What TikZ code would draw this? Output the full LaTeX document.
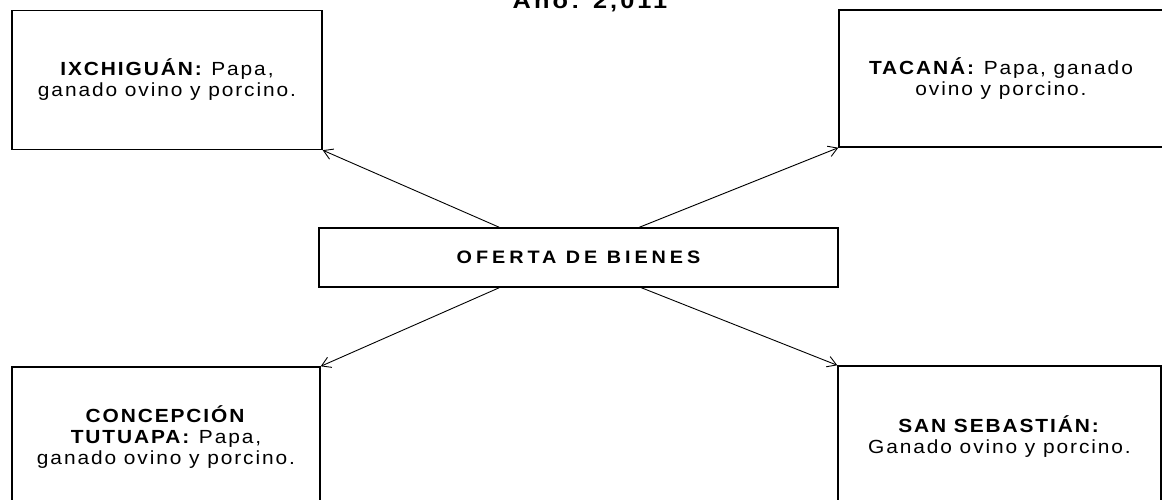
\documentclass[tikz,border=0pt]{standalone}
\usepackage{fontspec}
\setmainfont{Liberation Sans}
\newfontfamily\boxfont[FakeStretch=1.1,LetterSpace=10]{Liberation Sans}
\newfontfamily\midfont[FakeStretch=1.1,LetterSpace=22]{Liberation Sans}
\newfontfamily\titfont[FakeStretch=1.15,LetterSpace=14]{Liberation Sans}
\usetikzlibrary{arrows.meta}
\begin{document}
\begin{tikzpicture}[x=1pt,y=-1pt,
  bx/.style={draw=black,line width=1.4pt,rectangle,inner sep=0pt,align=center,
    font=\boxfont\fontsize{19}{21}\selectfont},
  conn/.style={draw=black,line width=0.9pt,-{Straight Barb[length=9pt,width=11pt]}}]
\useasboundingbox (0,0) rectangle (1162,500);
\node[anchor=base,font=\titfont\bfseries\fontsize{22}{26}\selectfont] (title) at (590,9) {Año: 2,011};
\node[bx,minimum width=310pt,minimum height=139pt] (ix) at (167,80)
  {\textbf{IXCHIGUÁN:} Papa,\\ganado ovino y porcino.};
\node[bx,minimum width=324pt,minimum height=137pt] (ta) at (1001,78.5)
  {\textbf{TACANÁ:} Papa, ganado\\ovino y porcino.};
\node[bx,minimum width=519pt,minimum height=59pt,font=\midfont\bfseries\fontsize{18}{20}\selectfont] (of) at (578.5,257.5)
  {OFERTA DE BIENES};
\node[bx,minimum width=308pt,minimum height=140pt] (co) at (166,437)
  {\textbf{CONCEPCIÓN}\\\textbf{TUTUAPA:} Papa,\\ganado ovino y porcino.};
\node[bx,minimum width=323pt,minimum height=142pt] (sa) at (999.5,437)
  {\textbf{SAN SEBASTIÁN:}\\Ganado ovino y porcino.};
\draw[conn] ([xshift=181pt]of.north west) -- (ix.south east);
\draw[conn] ([xshift=321pt]of.north west) -- (ta.south west);
\draw[conn] ([xshift=181pt]of.south west) -- (co.north east);
\draw[conn] ([xshift=323pt]of.south west) -- (sa.north west);
\end{tikzpicture}
\end{document}
